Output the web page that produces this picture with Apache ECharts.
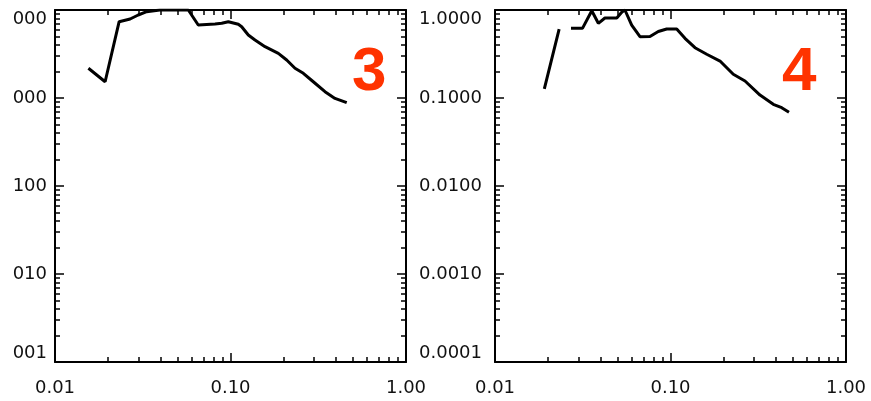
<!DOCTYPE html>
<html>
<head>
<meta charset="utf-8">
<script src="https://cdn.jsdelivr.net/npm/echarts@6/dist/echarts.min.js"></script>
<style>
  html, body { margin: 0; padding: 0; background: #fff; }
  #main { width: 871px; height: 401px; }
</style>
</head>
<body>
<div id="main"></div>
<script>
// panel "3"
var p3X = [0.0155, 0.0193, 0.0232, 0.0268, 0.0298, 0.0333, 0.0396, 0.0483, 0.0575, 0.0655, 0.0816, 0.0891, 0.0972,
           0.1108, 0.1158, 0.1263, 0.1379, 0.1573, 0.1873, 0.2090, 0.2331, 0.2600, 0.2963, 0.3455, 0.3939, 0.4594];
var p3Y = [0.218, 0.153, 0.736, 0.790, 0.877, 0.956, 1.0, 1.0, 1.0, 0.675, 0.693, 0.706, 0.736,
           0.688, 0.646, 0.520, 0.456, 0.383, 0.322, 0.270, 0.218, 0.191, 0.153, 0.118, 0.099, 0.0885];

// panel "4" (null = gap in the curve)
var p4X = [0.0191, 0.0232, 0.025, 0.0271, 0.0315, 0.0356, 0.0388, 0.0423, 0.0494, 0.0529, 0.0550, 0.0601, 0.0670,
           0.0764, 0.0852, 0.0951, 0.1085, 0.1209, 0.1379, 0.1608, 0.1915, 0.2279, 0.2658, 0.3236, 0.3852, 0.4302, 0.4733];
var p4Y = [0.127, 0.608, null, 0.619, 0.619, 0.98, 0.706, 0.811, 0.811, 0.95, 1.0, 0.675, 0.497,
           0.500, 0.570, 0.608, 0.608, 0.477, 0.373, 0.314, 0.263, 0.186, 0.156, 0.108, 0.0848, 0.0776, 0.0688];

var xMajor = [0.01, 0.1, 1];
var yMajor = [0.0001, 0.001, 0.01, 0.1, 1];
var panelNames = ['3', '4'];

// minor log ticks 2..9 per decade
function minorTicks(lo, hi) {
  var out = [];
  for (var e = lo; e < hi; e++)
    for (var m = 2; m <= 9; m++) out.push(+(m * Math.pow(10, e)).toPrecision(3));
  return out;
}
var xMinor = minorTicks(-2, 0);
var yMinor = minorTicks(-4, 0);

function zip(xs, ys) {
  return xs.map(function (x, i) { return [x, ys[i]]; });
}

var labelFont = { color: '#111', fontFamily: 'DejaVu Sans', fontSize: 18 };

function xAx(g, pos, vals, len, line, labels) {
  return {
    type: 'log', logBase: 10, gridIndex: g, position: pos, min: 0.01, max: 1,
    axisLine: { show: line, onZero: false, lineStyle: { color: '#000', width: 2 } },
    axisTick: { show: true, inside: true, length: len, customValues: vals, lineStyle: { color: '#000', width: 1.5 } },
    axisLabel: Object.assign({ show: labels, customValues: vals, margin: 17,
      formatter: function (v) { return (+v).toFixed(2); } }, labelFont),
    splitLine: { show: false }
  };
}

function yAx(g, pos, vals, len, line, labels) {
  return {
    type: 'log', logBase: 10, gridIndex: g, position: pos, min: 0.0001, max: 1,
    axisLine: { show: line, onZero: false, lineStyle: { color: '#000', width: 2 } },
    axisTick: { show: true, inside: true, length: len, customValues: vals, lineStyle: { color: '#000', width: 1.5 } },
    axisLabel: Object.assign({ show: labels, customValues: vals, margin: g === 0 ? 8 : 13,
      verticalAlignMinLabel: 'bottom', verticalAlignMaxLabel: 'top',
      formatter: function (v) { return (+v).toFixed(4); } }, labelFont),
    splitLine: { show: false }
  };
}

var xAxes = [], yAxes = [];
[0, 1].forEach(function (g) {
  xAxes.push(xAx(g, 'bottom', xMajor, 9, true, true));
  xAxes.push(xAx(g, 'bottom', xMinor, 5, false, false));
  xAxes.push(xAx(g, 'top', xMajor, 9, true, false));
  xAxes.push(xAx(g, 'top', xMinor, 5, false, false));
  yAxes.push(yAx(g, 'left', yMajor, 9, true, true));
  yAxes.push(yAx(g, 'left', yMinor, 5, false, false));
  yAxes.push(yAx(g, 'right', yMajor, 9, true, false));
  yAxes.push(yAx(g, 'right', yMinor, 5, false, false));
});

var myChart = echarts.init(document.getElementById('main'));
var option = {
  animation: false,
  backgroundColor: '#fff',
  grid: [
    { left: 55, top: 10, width: 351, height: 352, containLabel: false, outerBoundsMode: 'none' },
    { left: 495, top: 10, width: 351, height: 352, containLabel: false, outerBoundsMode: 'none' }
  ],
  xAxis: xAxes,
  yAxis: yAxes,
  graphic: [
    // the source image is cropped on its left edge
    { type: 'rect', left: 0, top: 0, z: 100, shape: { width: 12, height: 372 }, style: { fill: '#fff' } },
    { type: 'text', left: 352, top: 42, style: { text: panelNames[0], fill: '#ff3300',
      font: 'bold 62px "Liberation Sans", Arial, sans-serif' } },
    { type: 'text', left: 782, top: 42, style: { text: panelNames[1], fill: '#ff3300',
      font: 'bold 62px "Liberation Sans", Arial, sans-serif' } }
  ],
  series: [
    { type: 'line', xAxisIndex: 0, yAxisIndex: 0, data: zip(p3X, p3Y), symbol: 'none',
      clip: true, lineStyle: { color: '#000', width: 3 } },
    { type: 'line', xAxisIndex: 4, yAxisIndex: 4, data: zip(p4X, p4Y), symbol: 'none',
      clip: true, lineStyle: { color: '#000', width: 3 } }
  ]
};
myChart.setOption(option, true);
</script>
</body>
</html>
